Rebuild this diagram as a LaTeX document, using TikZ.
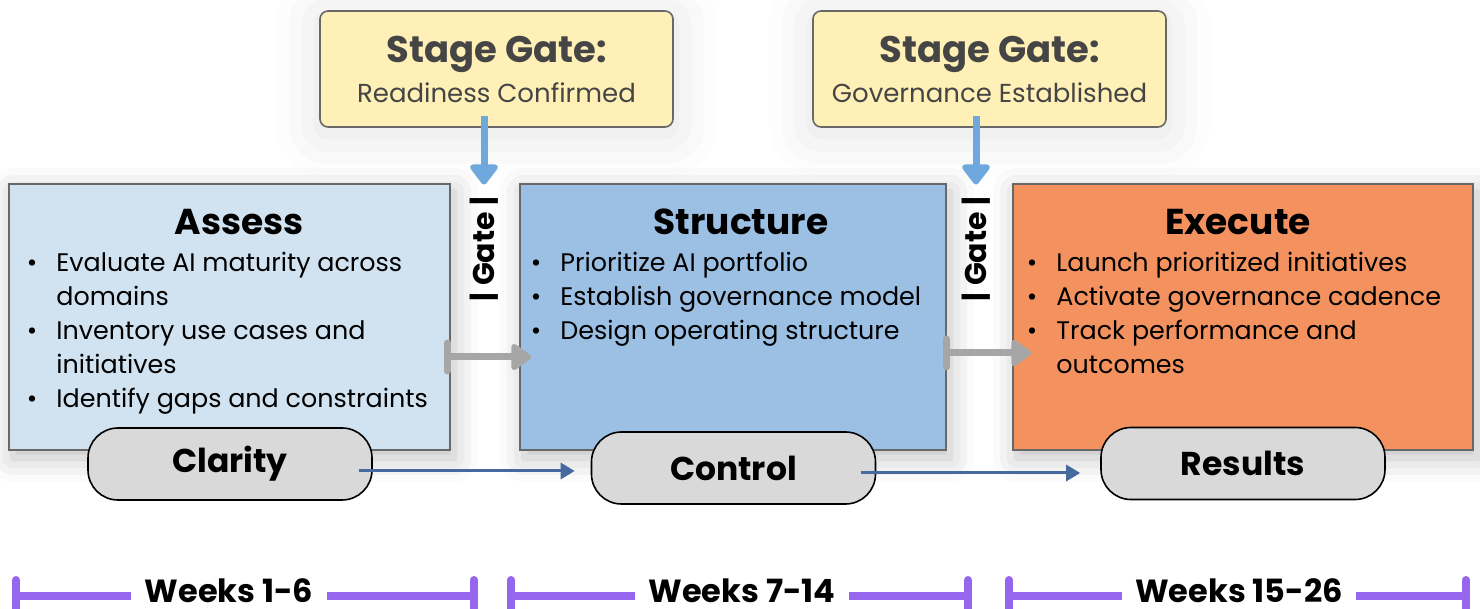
\documentclass[tikz,border=0pt]{standalone}
\usepackage{fontspec}
\setmainfont{Poppins}
\usetikzlibrary{arrows.meta,shadows.blur}
\definecolor{assessfill}{HTML}{D1E3F0}
\definecolor{structfill}{HTML}{9BC0E4}
\definecolor{execfill}{HTML}{F3925E}
\definecolor{boxline}{HTML}{686868}
\definecolor{gatefill}{HTML}{FEF0B6}
\definecolor{gatetext}{HTML}{454545}
\definecolor{bluearrow}{HTML}{6FA8DC}
\definecolor{grayarrow}{HTML}{A6A6A6}
\definecolor{darkarrow}{HTML}{46699F}
\definecolor{pillfill}{HTML}{D9D9D9}
\definecolor{timeline}{HTML}{9766EE}
\newcommand\bitem[4]{%
  \node[bdot] (#1d) at (#2,#3) {\textbullet};
  \node[btext] (#1t) at (#2+24,#3) {#4};}
\newcommand\bcont[4]{%
  \node[btext] (#1t) at (#2+24,#3) {#4};}
\begin{document}
\begin{tikzpicture}[x=0.5pt,y=-0.5pt,
  phase/.style={draw=boxline, line width=0.8pt, minimum height=133pt, inner sep=0pt,
    blur shadow={shadow xshift=2pt, shadow yshift=-4pt, shadow blur radius=12pt, shadow opacity=25}},
  gatebox/.style={draw=boxline, line width=0.8pt, fill=gatefill, rounded corners=4pt,
    minimum width=176.5pt, minimum height=58pt, inner sep=0pt,
    blur shadow={shadow xshift=0pt, shadow yshift=-3pt, shadow blur radius=22pt, shadow opacity=12}},
  gtitle/.style={anchor=base, inner sep=0pt, text=gatetext, font=\fontsize{18.5}{22}\selectfont\bfseries},
  gsub/.style={anchor=base, inner sep=0pt, text=gatetext, font=\fontsize{13}{16}\selectfont},
  ptitle/.style={anchor=base, inner sep=0pt, font=\fontsize{18}{22}\selectfont\bfseries},
  btext/.style={anchor=base west, inner sep=0pt, font=\fontsize{12.7}{17}\selectfont},
  bdot/.style={anchor=base, inner sep=0pt, font=\fontsize{12.7}{17}\selectfont},
  pill/.style={draw=black, line width=0.8pt, fill=pillfill, rounded corners=15pt,
    minimum width=142pt, minimum height=36pt, inner sep=0pt,
    font=\fontsize{16.5}{20}\selectfont\bfseries},
  gatelbl/.style={rotate=90, inner sep=0pt, font=\fontsize{15}{18}\selectfont\bfseries},
  bluearr/.style={draw=bluearrow, line width=3.5pt, -{Triangle[width=16pt,length=11pt,round]}},
  grayarr/.style={draw=grayarrow, line width=3.5pt,
    {Bar[width=14pt,round]}-{Triangle[width=15pt,length=11pt,round]}},
  darr/.style={draw=darkarrow, line width=1.5pt, -{Triangle[width=8pt,length=7pt]}},
  tline/.style={draw=timeline, line width=4pt, {Bar[width=16pt,round]}-},
  weeks/.style={anchor=base, inner xsep=6.5pt, inner ysep=0pt, font=\fontsize{16}{20}\selectfont\bfseries}
]
\useasboundingbox (0,0) rectangle (1480,609);

% phase boxes
\node[phase, fill=assessfill, minimum width=220.5pt] (assess) at (229.5,317) {};
\node[phase, fill=structfill, minimum width=213pt] (structure) at (733,317) {};
\node[phase, fill=execfill, minimum width=230pt] (execute) at (1243,317) {};

% stage gates
\node[gatebox] (gate1) at (496.5,69) {};
\node[gatebox] (gate2) at (989.5,69) {};
\node[gtitle] (g1t) at (496.5,63) {Stage Gate:};
\node[gsub] (g1s) at (496.5,103) {Readiness Confirmed};
\node[gtitle] (g2t) at (989.5,63) {Stage Gate:};
\node[gsub] (g2s) at (989.5,103) {Governance Established};

% gate labels
\node[gatelbl] (gl1) at (484,249) {| Gate |};
\node[gatelbl] (gl2) at (976,249) {| Gate |};

% blue arrows from gates
\draw[bluearr] (gl1.east |- g1s.south) ++(0,-6pt) -- ([yshift=6pt]gl1.east);
\draw[bluearr] (gl2.east |- g2s.south) ++(0,-6pt) -- ([yshift=6pt]gl2.east);

% titles
\node[ptitle] (at) at (239,235) {Assess};
\node[ptitle] (st) at (741,235) {Structure};
\node[ptitle] (et) at (1238,235) {Execute};

% bullets
\bitem{a1}{32}{272}{Evaluate AI maturity across}
\bcont{a1b}{32}{306}{domains}
\bitem{a2}{32}{340}{Inventory use cases and}
\bcont{a2b}{32}{374}{initiatives}
\bitem{a3}{32}{408}{Identify gaps and constraints}

\bitem{s1}{536}{272}{Prioritize AI portfolio}
\bitem{s2}{536}{306}{Establish governance model}
\bitem{s3}{536}{340}{Design operating structure}

\bitem{e1}{1032}{272}{Launch prioritized initiatives}
\bitem{e2}{1032}{306}{Activate governance cadence}
\bitem{e3}{1032}{340}{Track performance and}
\bcont{e3b}{1032}{374}{outcomes}

% gray arrows between phases
\draw[grayarr] ([xshift=-3.5pt,yshift=-20pt]assess.east) -- ([xshift=6pt,yshift=-20pt]structure.west);
\draw[grayarr] ([xshift=-2pt,yshift=-18pt]structure.east) -- ([xshift=9.5pt,yshift=-18pt]execute.west);

% pills
\node[pill] (clarity) at (230,464) {Clarity};
\node[pill] (control) at (733.5,468) {Control};
\node[pill] (results) at (1243,463.5) {Results};

\draw[darr] ([xshift=-7pt,yshift=-3.5pt]clarity.east) -- ([xshift=-8pt,yshift=-1.5pt]control.west);
\draw[darr] ([xshift=-7.5pt,yshift=-2.5pt]control.east) -- ([xshift=-10pt,yshift=-4.75pt]results.west);

% timeline
\node[weeks] (w1) at (229,603) {Weeks 1-6};
\node[weeks] (w2) at (742,603) {Weeks 7-14};
\node[weeks] (w3) at (1239,603) {Weeks 15-26};
\coordinate (t1a) at (12,596);  \coordinate (t1b) at (478,596);
\coordinate (t2a) at (507,596); \coordinate (t2b) at (972,596);
\coordinate (t3a) at (1005,596); \coordinate (t3b) at (1470,596);
\draw[tline] (t1a) -- (t1a -| w1.west);
\draw[tline] (t1b) -- (t1b -| w1.east);
\draw[tline] (t2a) -- (t2a -| w2.west);
\draw[tline] (t2b) -- (t2b -| w2.east);
\draw[tline] (t3a) -- (t3a -| w3.west);
\draw[tline] (t3b) -- (t3b -| w3.east);
\end{tikzpicture}
\end{document}
